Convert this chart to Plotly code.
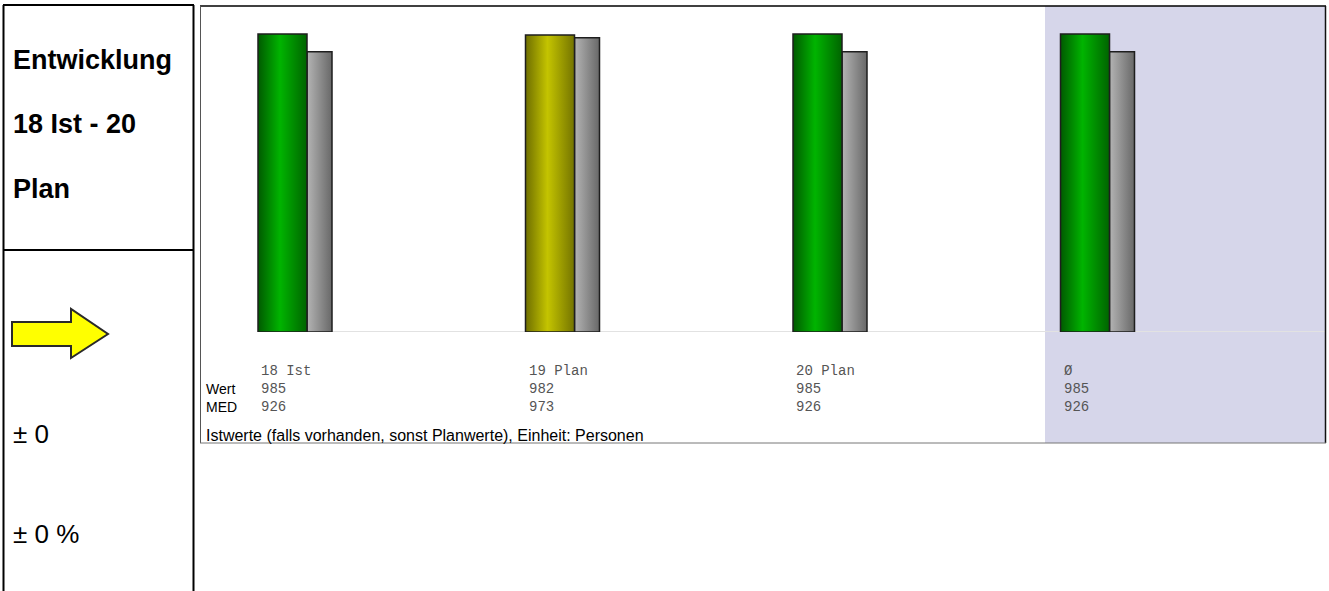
import plotly.graph_objects as go

# ---- data ----
categories = ["18 Ist", "19 Plan", "20 Plan", "Ø"]
wert = [985, 982, 985, 985]
med = [926, 973, 926, 926]
bar_kind = ["green", "olive", "green", "green"]
row_labels = ["Wert", "MED"]
side_title = ["Entwicklung", "18 Ist - 20", "Plan"]
side_delta = ["± 0", "± 0 %"]
footer = "Istwerte (falls vorhanden, sonst Planwerte), Einheit: Personen"

W, H = 1329, 591

def px(x):
    return x / W

def py(y):
    return 1 - y / H

gradients = {
    "green": [[0, "#005a00"], [0.45, "#00b400"], [1, "#006400"]],
    "olive": [[0, "#6e6e00"], [0.45, "#c4c400"], [1, "#747400"]],
    "gray": [[0, "#b4b4b4"], [1, "#686868"]],
}

slot_px = 267.5
x_left_px, x_right_px = 200, 1326
x0_px = 258  # position of category 0 green bar left edge
green_w = 49 / slot_px
gray_w = 25 / slot_px
xr = [(x_left_px - x0_px) / slot_px, (x_right_px - x0_px) / slot_px]
ytop = 326 * 985 / 298

fig = go.Figure()

def add_bar(x0, w, v, grad):
    fig.add_trace(go.Scatter(
        x=[x0, x0, x0 + w, x0 + w, x0],
        y=[0, v, v, 0, 0],
        mode="lines",
        fill="toself",
        fillgradient=dict(type="horizontal", colorscale=grad),
        line=dict(color="#1e1e1e", width=1.5),
        hoverinfo="skip",
        showlegend=False,
    ))

for i, cat in enumerate(categories):
    add_bar(i + green_w, gray_w, med[i], gradients["gray"])
    add_bar(i, green_w, wert[i], gradients[bar_kind[i]])

shapes = []
# shaded average column
shapes.append(dict(type="rect", xref="paper", yref="paper", x0=px(1045), x1=px(1325),
                   y0=py(443), y1=py(6), fillcolor="#d6d6ea", line=dict(width=0), layer="below"))
# baseline
shapes.append(dict(type="line", xref="x", yref="y", x0=0, x1=xr[1], y0=0, y1=0,
                   line=dict(color="#e2e2e2", width=2), layer="below"))
# chart box borders
shapes.append(dict(type="line", xref="paper", yref="paper", x0=px(200), x1=px(1326), y0=py(6), y1=py(6),
                   line=dict(color="#000000", width=1.5)))
shapes.append(dict(type="line", xref="paper", yref="paper", x0=px(200.5), x1=px(200.5), y0=py(6), y1=py(443),
                   line=dict(color="#555555", width=1)))
shapes.append(dict(type="line", xref="paper", yref="paper", x0=px(1325.5), x1=px(1325.5), y0=py(6), y1=py(443),
                   line=dict(color="#111111", width=1.5)))
shapes.append(dict(type="line", xref="paper", yref="paper", x0=px(200), x1=px(1326), y0=py(443), y1=py(443),
                   line=dict(color="#777777", width=1)))
# left panel
shapes.append(dict(type="line", xref="paper", yref="paper", x0=px(3.5), x1=px(3.5), y0=0, y1=py(5),
                   line=dict(color="#000000", width=2)))
shapes.append(dict(type="line", xref="paper", yref="paper", x0=px(193.5), x1=px(193.5), y0=0, y1=py(5),
                   line=dict(color="#000000", width=2)))
shapes.append(dict(type="line", xref="paper", yref="paper", x0=px(3), x1=px(194), y0=py(5), y1=py(5),
                   line=dict(color="#000000", width=2)))
shapes.append(dict(type="line", xref="paper", yref="paper", x0=px(3), x1=px(194), y0=py(250), y1=py(250),
                   line=dict(color="#000000", width=2)))
# arrow
pts = [(12, 322), (71, 322), (71, 309), (108, 334), (71, 358), (71, 346), (12, 346)]
path = "M " + " L ".join(f"{px(x)},{py(y)}" for x, y in pts) + " Z"
shapes.append(dict(type="path", xref="paper", yref="paper", path=path,
                   fillcolor="#ffff00", line=dict(color="#2a2a2a", width=2)))

ann = []
mono = dict(family="Liberation Mono, Courier New, monospace", size=14, color="#555555")
sans = dict(family="Liberation Sans, Arial, sans-serif", size=14, color="#000000")
for i, cat in enumerate(categories):
    xp = px(x0_px + slot_px * i + 1)
    ann.append(dict(x=xp, y=py(389), xref="paper", yref="paper",
                    text=f"{cat}<br>{wert[i]}<br>{med[i]}", showarrow=False,
                    xanchor="left", yanchor="middle", align="left", font=mono))
ann.append(dict(x=px(204), y=py(398), xref="paper", yref="paper", text="<br>".join(row_labels),
                showarrow=False, xanchor="left", yanchor="middle", align="left", font=sans))
ann.append(dict(x=px(204), y=py(435), xref="paper", yref="paper", text=footer, showarrow=False,
                xanchor="left", yanchor="middle", font=dict(sans, size=16)))
for t, y in zip(side_title, [60, 124, 189]):
    ann.append(dict(x=px(11), y=py(y), xref="paper", yref="paper", text=f"<b>{t}</b>", showarrow=False,
                    xanchor="left", yanchor="middle",
                    font=dict(family="Liberation Sans, Arial, sans-serif", size=27, color="#000000")))
for t, y in zip(side_delta, [434, 534]):
    ann.append(dict(x=px(11), y=py(y), xref="paper", yref="paper", text=t, showarrow=False,
                    xanchor="left", yanchor="middle",
                    font=dict(family="Liberation Sans, Arial, sans-serif", size=26, color="#000000")))

fig.update_layout(
    width=W, height=H, autosize=False,
    margin=dict(l=0, r=0, t=0, b=0),
    paper_bgcolor="#ffffff", plot_bgcolor="rgba(0,0,0,0)",
    xaxis=dict(domain=[px(x_left_px), px(x_right_px)], range=xr, visible=False, fixedrange=True),
    yaxis=dict(domain=[py(332), py(6)], range=[0, ytop], visible=False, fixedrange=True),
    shapes=shapes, annotations=ann, showlegend=False,
)

fig.write_html("out.html", config={"displayModeBar": False},
               post_script="document.body.style.margin='0px';document.body.style.overflow='hidden';")
